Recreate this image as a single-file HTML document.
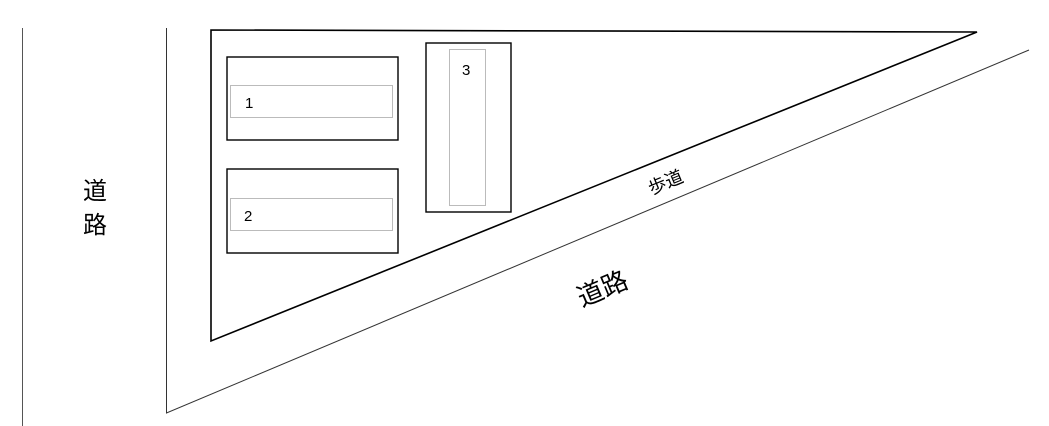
<!DOCTYPE html>
<html><head><meta charset="utf-8"><style>
body{margin:0;background:#fff;width:1049px;height:426px;overflow:hidden}
svg{display:block}
text{font-family:"Liberation Sans","Noto Sans CJK JP",sans-serif;fill:#000}
</style></head><body>
<svg width="1049" height="426" xmlns="http://www.w3.org/2000/svg">
<line x1="22.5" y1="28" x2="22.5" y2="426" stroke="#555" stroke-width="1"/>
<polyline points="166.5,28 166.5,413 1029,50" fill="none" stroke="#333" stroke-width="1"/>
<polygon points="211,30 977,32 211,341" fill="none" stroke="#000" stroke-width="1.6"/>
<rect x="227" y="57" width="171" height="83" fill="none" stroke="#000" stroke-width="1.4"/>
<rect x="230.5" y="85.5" width="162" height="32" fill="none" stroke="#bbb" stroke-width="1"/>
<text x="245" y="108" font-size="15">1</text>
<rect x="227" y="169" width="171" height="84" fill="none" stroke="#000" stroke-width="1.4"/>
<rect x="230.5" y="198.5" width="162" height="32" fill="none" stroke="#bbb" stroke-width="1"/>
<text x="244" y="221" font-size="15">2</text>
<rect x="426" y="43" width="85" height="169" fill="none" stroke="#000" stroke-width="1.4"/>
<rect x="449.5" y="49.5" width="36" height="156" fill="none" stroke="#bbb" stroke-width="1"/>
<text x="462" y="75" font-size="15">3</text>
<text x="95" y="199" font-size="24" text-anchor="middle">道</text>
<text x="95" y="233" font-size="24" text-anchor="middle">路</text>
<text x="0" y="0" font-size="18" text-anchor="middle" transform="translate(668,188) rotate(-22.5)">歩道</text>
<text x="0" y="0" font-size="26" text-anchor="middle" transform="translate(606,297) rotate(-22.8)">道路</text>
</svg>
</body></html>
